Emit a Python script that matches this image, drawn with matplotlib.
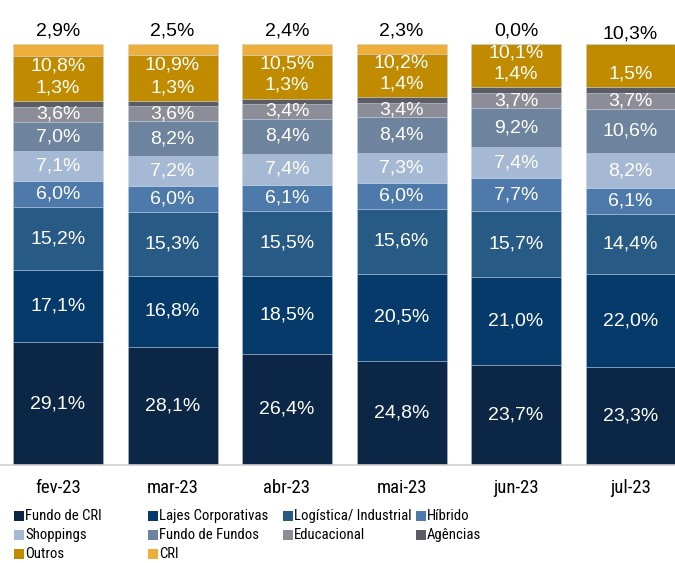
import matplotlib
matplotlib.use("Agg")
import matplotlib.pyplot as plt
from matplotlib.patches import Rectangle
from matplotlib import font_manager
import numpy as np

months = ["fev-23", "mar-23", "abr-23", "mai-23", "jun-23", "jul-23"]
series = ["Fundo de CRI", "Lajes Corporativas", "Logística/ Industrial", "Híbrido",
          "Shoppings", "Fundo de Fundos", "Educacional", "Agências", "Outros", "CRI"]

fundo_cri = [29.1, 28.1, 26.4, 24.8, 23.7, 23.3]
lajes = [17.1, 16.8, 18.5, 20.5, 21.0, 22.0]
logistica = [15.2, 15.3, 15.5, 15.6, 15.7, 14.4]
hibrido = [6.0, 6.0, 6.1, 6.0, 7.7, 6.1]
shoppings = [7.1, 7.2, 7.4, 7.3, 7.4, 8.2]
fundo_fundos = [7.0, 8.2, 8.4, 8.4, 9.2, 10.6]
educacional = [3.6, 3.6, 3.4, 3.4, 3.7, 3.7]
agencias = [1.3, 1.3, 1.3, 1.4, 1.4, 1.5]
outros = [10.8, 10.9, 10.5, 10.2, 10.1, 10.3]
cri = [2.9, 2.5, 2.4, 2.3, 0.0, 0.0]

colors = ["#0B2745", "#063A6B", "#285A86", "#4D7AAA", "#A6B9D4",
          "#6E849E", "#8C8D96", "#5B5C64", "#C18B00", "#EDAE3B"]

values = [fundo_cri, lajes, logistica, hibrido, shoppings, fundo_fundos,
          educacional, agencias, outros, cri]

# pick a condensed font if one is installed
installed = {f.name for f in font_manager.fontManager.ttflist}
narrow = None
for cand in ["Liberation Sans Narrow", "Roboto Condensed", "DejaVu Sans Condensed",
             "Open Sans Condensed", "Noto Sans Condensed"]:
    if cand in installed:
        narrow = cand
        break
if narrow:
    narrow_font = [narrow, "DejaVu Sans"]
    tick_size, leg_size = 13.5, 10.6
else:
    narrow_font = ["Liberation Sans", "DejaVu Sans"]
    tick_size, leg_size = 12.5, 10.2

W, H = 675, 563
fig = plt.figure(figsize=(W / 100, H / 100), dpi=100)
ax = fig.add_axes([0, (H - 465) / H, 1, (465 - 2) / H])
px_per_pct = 4.21
ax.set_ylim(0, (465 - 2) / px_per_pct)
unit = 114.5
ax.set_xlim(-58 / unit, (675 - 58) / unit)

x = np.arange(len(months))
bw = 90 / unit
label_font = ["Liberation Sans", "DejaVu Sans"]

def fmt(v):
    return f"{v:.1f}".replace(".", ",") + "%"

bottom = np.zeros(len(months))
bottoms = []
for vals, c in zip(values, colors):
    v = np.array(vals)
    ax.bar(x, v, bw, bottom=bottom, color=c, edgecolor=(0.75, 0.82, 0.9, 0.55),
           linewidth=0.5, zorder=2)
    bottoms.append(bottom.copy())
    bottom = bottom + v
totals = bottom

off = lambda px: px / px_per_pct
for si, (vals, b) in enumerate(zip(values, bottoms)):
    name = series[si]
    for i, v in enumerate(vals):
        center = b[i] + v / 2
        if name == "CRI":
            if i == len(months) - 1:
                continue
            ax.text(x[i], totals[i] + off(13), fmt(v), ha="center", va="center",
                    fontsize=14, color="black", family=label_font)
        elif name == "Outros":
            if i == len(months) - 1:
                ax.text(x[i], totals[i] + off(10), fmt(v), ha="center", va="center",
                        fontsize=14, color="black", family=label_font)
            else:
                ax.text(x[i], center + off(13), fmt(v), ha="center", va="center",
                        fontsize=14, color="white", family=label_font)
        elif name == "Agências":
            ax.text(x[i], center + off(16), fmt(v), ha="center", va="center",
                    fontsize=14, color="white", family=label_font)
        else:
            ax.text(x[i], center, fmt(v), ha="center", va="center",
                    fontsize=14, color="white", family=label_font)

for s in ["top", "right", "left"]:
    ax.spines[s].set_visible(False)
ax.spines["bottom"].set_color("#D0D0D0")
ax.spines["bottom"].set_linewidth(1.2)
ax.set_yticks([])
ax.set_xticks(x)
ax.set_xticklabels(months, fontsize=tick_size, family=narrow_font)
ax.tick_params(axis="x", length=0, pad=10)

# legend
rows_y = [516, 535, 554]
col_x = [14, 148, 283, 416]
sq = 10
for i, (name, c) in enumerate(zip(series, colors)):
    r, cidx = divmod(i, 4)
    xp, yp = col_x[cidx], rows_y[r]
    fig.patches.append(Rectangle((xp / W, (H - yp - sq / 2) / H), sq / W, sq / H,
                                 transform=fig.transFigure, facecolor=c, edgecolor="none"))
    fig.text((xp + sq + 1) / W, (H - yp) / H, name, ha="left", va="center",
             fontsize=leg_size, family=narrow_font, color="black")

fig.savefig("out.png", dpi=100)
